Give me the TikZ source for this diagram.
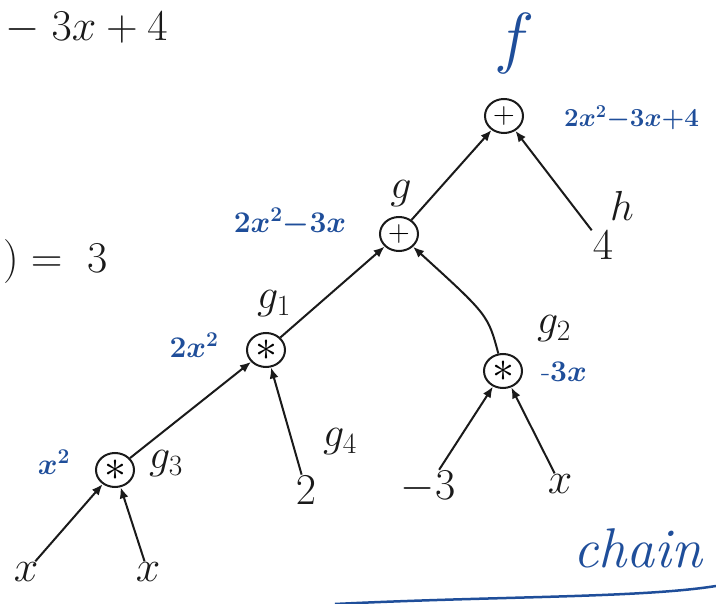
\RequirePackage{fix-cm}
\documentclass[tikz,border=0pt]{standalone}
\usetikzlibrary{shapes.geometric,arrows.meta}
\definecolor{ink}{HTML}{1A1A1A}
\definecolor{pen}{HTML}{1F4E9A}
\begin{document}
\begin{tikzpicture}[x=1pt,y=-1pt,
  opnode/.style={ellipse,draw=ink,line width=2pt,minimum width=38pt,minimum height=34pt,inner sep=0pt,font=\fontsize{30}{32}\selectfont},
  leafnode/.style={text=ink,inner sep=1pt,font=\fontsize{44}{46}\selectfont},
  nmlabel/.style={text=ink,inner sep=0pt,font=\fontsize{42}{44}\selectfont},
  vallabel/.style={text=pen,inner sep=0pt,font=\fontsize{30}{32}\selectfont\boldmath},
  conn/.style={draw=ink,line width=2pt,-{Latex[length=11pt,width=9pt]}}]
\useasboundingbox (0,0) rectangle (716,604);
% partial text at the left edge
\node[leafnode,anchor=west,inner sep=0pt] (top) at (5,28) {$-\;3x+4$};
\node[leafnode,anchor=west] (eq) at (2,262) {$)=\;3$};
% operator nodes
\node[opnode] (f) at (504,116) {$+$};
\node[opnode] (g) at (399,234) {$+$};
\node[opnode] (g1) at (266,350) {\fontsize{44}{44}\selectfont$*$};
\node[opnode] (g2) at (503,371) {\fontsize{44}{44}\selectfont$*$};
\node[opnode] (g3) at (115,470) {\fontsize{44}{44}\selectfont$*$};
% leaves
\node[leafnode] (h) at (603,245) {$4$};
\node[leafnode] (two) at (306,490) {$2$};
\node[leafnode] (m3) at (428,487) {$-3$};
\node[leafnode] (x3) at (560,484) {$x$};
\node[leafnode] (x1) at (26,572) {$x$};
\node[leafnode] (x2) at (148,572) {$x$};
% names
\node[text=pen,inner sep=0pt,font=\fontsize{68}{70}\selectfont] (fn) at (515,44) {$f$};
\node[nmlabel] (gn) at (401,194) {$g$};
\node[nmlabel] (hn) at (622,206) {$h$};
\node[nmlabel] (g1n) at (274,304) {$g_1$};
\node[nmlabel] (g2n) at (554,329) {$g_2$};
\node[nmlabel] (g3n) at (166,464) {$g_3$};
\node[nmlabel] (g4n) at (340,442) {$g_4$};
% values
\node[vallabel,anchor=west,font=\fontsize{26}{28}\selectfont\boldmath] (fv) at (564,118) {$2x^2{-}3x{+}4$};
\node[vallabel] (gv) at (290,222) {$2x^2{-}3x$};
\node[vallabel] (g1v) at (194,345) {$2x^2$};
\node[vallabel] (g2v) at (564,372) {$\mbox{-}3x$};
\node[vallabel] (g3v) at (54,462) {$x^2$};
\node[text=pen,inner sep=0pt,font=\fontsize{56}{58}\selectfont\itshape] (ch) at (638,548) {chain};
\coordinate (u1) at (335,604);
\coordinate (u2) at (716,586);
\draw[pen,line width=2.5pt] (u1) .. controls (500,596) and (640,598) .. (u2);
% edges
\draw[conn] (g) -- (f);
\draw[conn] (h) -- (f);
\draw[conn] (g1) -- (g);
\draw[conn] (g2) .. controls (488,315) .. (g);
\draw[conn] (g3) -- (g1);
\draw[conn] (two) -- (g1);
\draw[conn] (m3) -- (g2);
\draw[conn] (x3) -- (g2);
\draw[conn] (x1) -- (g3);
\draw[conn] (x2) -- (g3);
\end{tikzpicture}
\end{document}
